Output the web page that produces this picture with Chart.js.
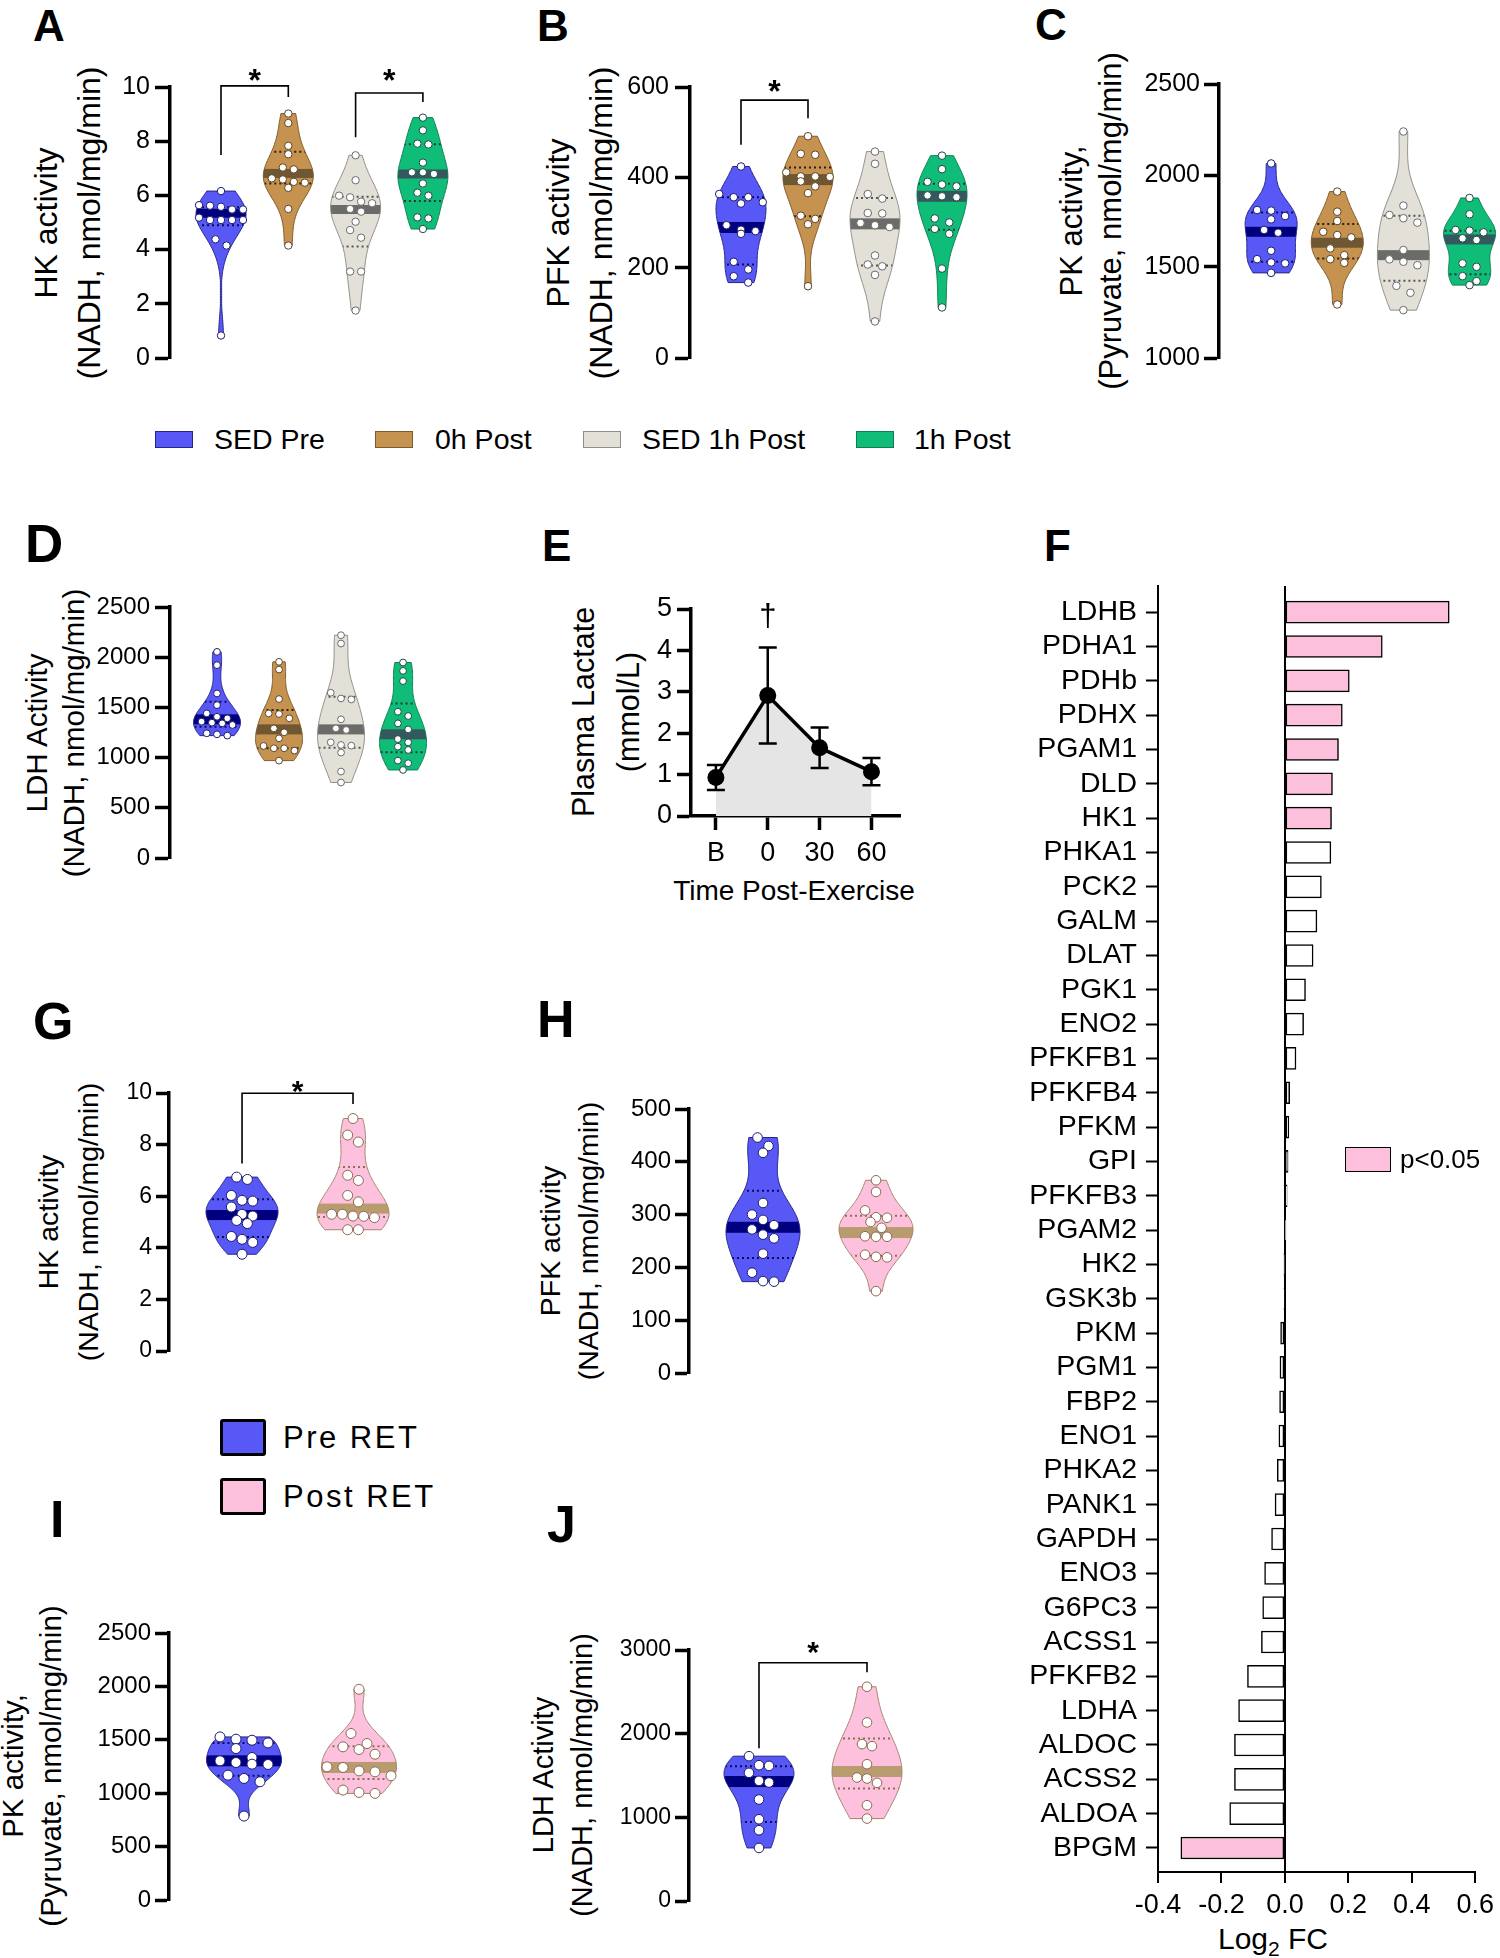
<!DOCTYPE html>
<html>
<head>
<meta charset="utf-8">
<script src="https://cdn.jsdelivr.net/npm/chart.js@4.4.1/dist/chart.umd.min.js"></script>
<style>
  body { margin: 0; background: #fff; }
  #fig { position: relative; width: 1500px; height: 1958px; overflow: hidden; font-family: "Liberation Sans", Arial, Helvetica, sans-serif; color: #000; }
  canvas { position: absolute; }
  .lt { position: absolute; font-weight: bold; line-height: 1; }
  .yt { position: absolute; transform: translate(-50%, -50%) rotate(-90deg); white-space: nowrap; text-align: center; }
  .sw { position: absolute; box-sizing: border-box; }
  .lg { position: absolute; white-space: nowrap; }
</style>
</head>
<body>
<div id="fig">
  <!-- panel letters -->
  <div class="lt" style="left:33px;top:4px;font-size:44px">A</div>
  <div class="lt" style="left:537px;top:4px;font-size:44px">B</div>
  <div class="lt" style="left:1035px;top:3px;font-size:44px">C</div>
  <div class="lt" style="left:25px;top:517px;font-size:53px">D</div>
  <div class="lt" style="left:542px;top:524px;font-size:44px">E</div>
  <div class="lt" style="left:1044px;top:524px;font-size:44px">F</div>
  <div class="lt" style="left:33px;top:995px;font-size:52px">G</div>
  <div class="lt" style="left:537px;top:993px;font-size:52px">H</div>
  <div class="lt" style="left:50px;top:1493px;font-size:52px">I</div>
  <div class="lt" style="left:547px;top:1498px;font-size:52px">J</div>

  <!-- y axis titles -->
  <div class="yt" style="left:67.5px;top:222.5px;font-size:32px;line-height:43px">HK activity<br>(NADH, nmol/mg/min)</div>
  <div class="yt" style="left:579.5px;top:222.5px;font-size:32px;line-height:43px">PFK activity<br>(NADH, nmol/mg/min)</div>
  <div class="yt" style="left:1090.5px;top:221px;font-size:31px;line-height:39px">PK activity,<br>(Pyruvate, nmol/mg/min)</div>
  <div class="yt" style="left:54.5px;top:732.5px;font-size:29.5px;line-height:37px">LDH Activity<br>(NADH, nmol/mg/min)</div>
  <div class="yt" style="left:605.5px;top:712px;font-size:30.5px;line-height:45px">Plasma Lactate<br>(mmol/L)</div>
  <div class="yt" style="left:67.75px;top:1222px;font-size:28.5px;line-height:39.5px">HK activity<br>(NADH, nmol/mg/min)</div>
  <div class="yt" style="left:569px;top:1241px;font-size:28.5px;line-height:38px">PFK activity<br>(NADH, nmol/mg/min)</div>
  <div class="yt" style="left:32px;top:1766px;font-size:29.5px;line-height:38px">PK activity,<br>(Pyruvate, nmol/mg/min)</div>
  <div class="yt" style="left:562.5px;top:1775px;font-size:29px;line-height:39px">LDH Activity<br>(NADH, nmol/mg/min)</div>

  <!-- x axis titles -->
  <div class="lg" style="left:794px;top:891px;transform:translate(-50%,-50%);font-size:28px">Time Post-Exercise</div>
  <div class="lg" style="left:1273px;top:1941px;transform:translate(-50%,-50%);font-size:30px">Log<sub style="font-size:21px">2</sub> FC</div>

  <canvas id="cA" width="480" height="330" style="left:0px;top:50px"></canvas>
  <canvas id="cB" width="490" height="330" style="left:500px;top:50px"></canvas>
  <canvas id="cC" width="500" height="330" style="left:1000px;top:50px"></canvas>
  <canvas id="cD" width="480" height="310" style="left:0px;top:570px"></canvas>
  <canvas id="cE" width="400" height="340" style="left:520px;top:580px"></canvas>
  <canvas id="cF" width="500" height="1398" style="left:1000px;top:560px"></canvas>
  <canvas id="cG" width="480" height="330" style="left:0px;top:1050px"></canvas>
  <canvas id="cH" width="470" height="330" style="left:500px;top:1070px"></canvas>
  <canvas id="cI" width="480" height="330" style="left:0px;top:1600px"></canvas>
  <canvas id="cJ" width="470" height="320" style="left:500px;top:1610px"></canvas>
</div>

<script>
Chart.defaults.font.family = '"Liberation Sans", Arial, Helvetica, sans-serif';
Chart.defaults.color = "#000";

// ---------- data ----------
const topGroups = ["SED Pre", "0h Post", "SED 1h Post", "1h Post"];
const retGroups = ["Pre RET", "Post RET"];

// A  HK activity (acute)
const hkTicks = [0, 2, 4, 6, 8, 10];
const hkSedPre = [6.16, 5.62, 5.48, 5.58, 5.64, 5.48, 5.18, 5.09, 5.09, 5.09, 5.09, 4.38, 4.15, 0.83];
const hk0hPost = [9.02, 8.67, 7.83, 7.52, 7.03, 6.96, 6.63, 6.50, 6.47, 6.59, 6.28, 5.50, 4.15];
const hkSed1h = [7.48, 6.56, 5.93, 5.99, 5.77, 5.71, 5.50, 5.40, 5.03, 4.72, 4.44, 3.19, 3.19, 1.75];
const hk1hPost = [8.87, 8.40, 7.88, 7.91, 7.21, 6.85, 6.79, 6.85, 6.44, 6.10, 5.99, 5.19, 5.15, 4.76];
const hkMed = [5.34, 6.81, 5.48, 6.79];
const hkQ1 = [4.90, 6.44, 4.11, 5.79];
const hkQ3 = [5.56, 7.61, 5.95, 7.89];

// B  PFK activity (acute)
const pfkTicks = [0, 200, 400, 600];
const pfkSedPre = [424, 356, 356, 363, 342, 345, 294, 284, 275, 281, 213, 196, 181, 167];
const pfk0hPost = [491, 452, 450, 402, 401, 411, 402, 380, 391, 365, 308, 315, 296, 159];
const pfkSed1h = [457, 430, 363, 353, 320, 321, 294, 290, 299, 227, 203, 207, 184, 81];
const pfk1hPost = [448, 418, 390, 380, 384, 356, 358, 360, 300, 309, 275, 286, 198, 112];
const pfkMed = [289, 395, 297, 358];
const pfkQ1 = [207, 314, 205, 284];
const pfkQ3 = [356, 422, 354, 386];

// C  PK activity (acute)
const pkTicks = [1000, 1500, 2000, 2500];
const pkSedPre = [2065, 1807, 1810, 1759, 1777, 1701, 1686, 1587, 1541, 1523, 1518, 1466];
const pk0hPost = [1911, 1801, 1750, 1673, 1691, 1660, 1600, 1563, 1541, 1521, 1293];
const pkSed1h = [2240, 1834, 1783, 1765, 1741, 1591, 1527, 1540, 1508, 1395, 1357, 1262];
const pk1hPost = [1876, 1787, 1688, 1697, 1701, 1646, 1655, 1518, 1499, 1448, 1421, 1399];
const pkMed = [1691, 1631, 1563, 1649];
const pkQ1 = [1527, 1545, 1423, 1459];
const pkQ3 = [1797, 1733, 1779, 1697];

// D  LDH activity (acute)
const ldhTicks = [0, 500, 1000, 1500, 2000, 2500];
const ldhSedPre = [2053, 1921, 1639, 1523, 1440, 1407, 1391, 1358, 1348, 1341, 1325, 1219, 1242, 1232];
const ldh0hPost = [1954, 1877, 1583, 1434, 1440, 1391, 1291, 1252, 1192, 1116, 1093, 1093, 1070, 970];
const ldhSed1h = [2219, 2136, 1579, 1589, 1646, 1381, 1275, 1291, 1152, 1119, 1126, 1050, 861, 752];
const ldh1hPost = [1947, 1864, 1762, 1414, 1457, 1341, 1281, 1185, 1152, 1109, 1076, 970, 944, 877];
const ldhMed = [1381, 1281, 1281, 1232];
const ldhQ1 = [1308, 1093, 1099, 1053];
const ldhQ3 = [1556, 1474, 1606, 1540];

// E  plasma lactate
const lactLabels = ["B", "0", "30", "60"];
const lactMean = [0.93, 2.91, 1.65, 1.07];
const lactSd = [0.30, 1.16, 0.49, 0.33];
const lactTicks = [0, 1, 2, 3, 4, 5];

// F  log2 fold change
const genes = ["LDHB", "PDHA1", "PDHb", "PDHX", "PGAM1", "DLD", "HK1", "PHKA1", "PCK2", "GALM", "DLAT", "PGK1", "ENO2",
  "PFKFB1", "PFKFB4", "PFKM", "GPI", "PFKFB3", "PGAM2", "HK2", "GSK3b", "PKM", "PGM1", "FBP2", "ENO1", "PHKA2", "PANK1",
  "GAPDH", "ENO3", "G6PC3", "ACSS1", "PFKFB2", "LDHA", "ALDOC", "ACSS2", "ALDOA", "BPGM"];
const log2fc = [0.518, 0.307, 0.203, 0.181, 0.169, 0.150, 0.147, 0.145, 0.115, 0.101, 0.089, 0.065, 0.059,
  0.035, 0.015, 0.0125, 0.010, 0.007, 0.001, -0.002, -0.003, -0.0135, -0.0156, -0.0167, -0.019, -0.024, -0.031,
  -0.042, -0.064, -0.070, -0.074, -0.118, -0.146, -0.159, -0.159, -0.174, -0.328];
const sigGenes = ["LDHB", "PDHA1", "PDHb", "PDHX", "PGAM1", "DLD", "HK1", "BPGM"];
const fcTicks = [-0.4, -0.2, 0, 0.2, 0.4, 0.6];

// G  HK activity (training)
const retHkPre = [6.65, 6.74, 6.03, 5.81, 5.84, 5.58, 5.30, 5.23, 5.06, 4.94, 4.44, 4.33, 4.21, 3.75];
const retHkPost = [9.01, 8.37, 8.10, 6.81, 6.61, 6.03, 5.78, 5.23, 5.30, 5.30, 5.22, 5.17, 4.70, 4.70];
const retHkMed = [5.27, 5.52];
const retHkQ1 = [4.42, 5.19];
const retHkQ3 = [5.88, 7.13];

// H  PFK activity (training)
const retPfkTicks = [0, 100, 200, 300, 400, 500];
const retPfkPre = [446, 430, 417, 322, 300, 280, 290, 272, 255, 262, 226, 190, 173, 174];
const retPfkPost = [365, 343, 294, 295, 308, 286, 275, 258, 258, 259, 224, 219, 220, 155];
const retPfkMed = [276, 266];
const retPfkQ1 = [218, 222];
const retPfkQ3 = [345, 298];

// I  PK activity (training)
const retPkTicks = [0, 500, 1000, 1500, 2000, 2500];
const retPkPre = [1496, 1471, 1506, 1527, 1418, 1334, 1303, 1287, 1269, 1272, 1169, 1138, 1107, 786];
const retPkPost = [1973, 1559, 1434, 1465, 1365, 1409, 1247, 1241, 1200, 1209, 1163, 998, 1029, 1007];
const retPkMed = [1303, 1241];
const retPkQ1 = [1163, 1132];
const retPkQ3 = [1471, 1440];

// J  LDH activity (training)
const retLdhTicks = [0, 1000, 2000, 3000];
const retLdhPre = [1731, 1615, 1623, 1532, 1416, 1436, 1213, 977, 846, 634];
const retLdhPost = [2561, 2134, 1875, 1851, 1635, 1476, 1464, 1412, 1145, 985];
const retLdhMed = [1428, 1548];
const retLdhQ1 = [945, 1344];
const retLdhQ3 = [1611, 1943];

// ---------- colours ----------
const pal = {
  sedPre: { fill: "#5858f7", band: "#00007e", edge: "#26268a", pt: "#1c1c6e", dot: "#0a0a5a" },
  h0Post: { fill: "#c5924f", band: "#6f5734", edge: "#7d5b2d", pt: "#5e4424", dot: "#2a1f10" },
  sed1h: { fill: "#e3e0d7", band: "#6b6b69", edge: "#8e8e8a", pt: "#6b6b6b", dot: "#555555" },
  h1Post: { fill: "#0fbd78", band: "#34585e", edge: "#0d8052", pt: "#1f4a44", dot: "#183838" },
  postRet: { fill: "#fdc1dd", band: "#b99b70", edge: "#a6846a", pt: "#8a6a4e", dot: "#8d6f52" }
};
const topPal = [pal.sedPre, pal.h0Post, pal.sed1h, pal.h1Post];
const retPal = [pal.sedPre, pal.postRet];

function groups(list, med, q1, q3, colors) {
  return list.map((vals, i) => ({ vals, med: med[i], q1: q1[i], q3: q3[i], c: colors[i] }));
}

// kernel density profile, cut at the data range
function kde(vals, n, bw) {
  const m = vals.length;
  const mean = vals.reduce((a, b) => a + b, 0) / m;
  const sd = Math.sqrt(vals.reduce((a, b) => a + (b - mean) ** 2, 0) / (m - 1));
  const h = 0.9 * sd * Math.pow(m, -0.2) * bw;
  const lo = Math.min(...vals), hi = Math.max(...vals);
  const out = [];
  for (let k = 0; k <= n; k++) {
    const v = lo + (hi - lo) * k / n;
    let d = 0;
    vals.forEach(x => { d += Math.exp(-0.5 * ((v - x) / h) ** 2); });
    out.push([v, d]);
  }
  const mx = Math.max(...out.map(p => p[1]));
  return out.map(p => [p[0], p[1] / mx]);
}

function violinPlugin(o) {
  return {
    id: "violins",
    beforeDatasetsDraw(chart) {
      const { ctx, scales: { x, y } } = chart;
      o.groups.forEach((g, i) => {
        const cx = x.getPixelForValue(i);
        const prof = kde(g.vals, 90, o.bw || 1);
        const path = new Path2D();
        prof.forEach(([v, d], k) => {
          const px = cx - Math.max(d * o.halfW, 0.6), py = y.getPixelForValue(v);
          if (k === 0) path.moveTo(px, py); else path.lineTo(px, py);
        });
        for (let k = prof.length - 1; k >= 0; k--) {
          path.lineTo(cx + Math.max(prof[k][1] * o.halfW, 0.6), y.getPixelForValue(prof[k][0]));
        }
        path.closePath();
        ctx.save();
        ctx.fillStyle = g.c.fill;
        ctx.fill(path);
        ctx.save();
        ctx.clip(path);
        const w = o.halfW + 4;
        const pm = y.getPixelForValue(g.med);
        ctx.fillStyle = g.c.band;
        ctx.fillRect(cx - w, pm - o.band / 2, 2 * w, o.band);
        ctx.strokeStyle = g.c.dot;
        ctx.lineWidth = 2;
        ctx.setLineDash([2, 3]);
        [g.q1, g.q3].forEach(q => {
          const pq = y.getPixelForValue(q);
          ctx.beginPath(); ctx.moveTo(cx - w, pq); ctx.lineTo(cx + w, pq); ctx.stroke();
        });
        ctx.restore();
        ctx.strokeStyle = g.c.edge;
        ctx.lineWidth = 1;
        ctx.stroke(path);
        ctx.restore();
      });
    },
    afterDatasetsDraw(chart) {
      const { ctx, scales: { x, y } } = chart;
      (o.sig || []).forEach(s => {
        const x0 = x.getPixelForValue(s.from), x1 = x.getPixelForValue(s.to);
        const yt = y.getPixelForValue(s.top);
        ctx.save();
        ctx.strokeStyle = "#000";
        ctx.lineWidth = 1.6;
        ctx.beginPath();
        ctx.moveTo(x0, y.getPixelForValue(s.a));
        ctx.lineTo(x0, yt);
        ctx.lineTo(x1, yt);
        ctx.lineTo(x1, y.getPixelForValue(s.b));
        ctx.stroke();
        ctx.fillStyle = "#000";
        ctx.font = "bold " + o.starSize + 'px "Liberation Sans", Arial';
        ctx.textAlign = "center";
        ctx.textBaseline = "alphabetic";
        ctx.fillText("*", (x0 + x1) / 2, y.getPixelForValue(s.star) + 0.58 * o.starSize);
        ctx.restore();
      });
    }
  };
}

// spread points of one violin sideways, row by row
function swarm(chart, o) {
  const xs = chart.scales.x, ys = chart.scales.y;
  chart.data.datasets.forEach((ds, i) => {
    const items = o.groups[i].vals.map(v => ({ v, py: ys.getPixelForValue(v) })).sort((a, b) => a.py - b.py);
    const rows = [];
    items.forEach(it => {
      const row = rows[rows.length - 1];
      if (row && it.py - row[0].py < o.r * 2.2) row.push(it); else rows.push([it]);
    });
    const cx = xs.getPixelForValue(i);
    const pts = [];
    rows.forEach(row => row.forEach((it, k) => {
      pts.push({ x: xs.getValueForPixel(cx + (k - (row.length - 1) / 2) * o.step), y: it.v });
    }));
    ds.data = pts;
  });
  chart.update("none");
}

function violin(id, o) {
  const chart = new Chart(document.getElementById(id), {
    type: "scatter",
    data: {
      datasets: o.groups.map((g, i) => ({
        data: g.vals.map(v => ({ x: i, y: v })),
        pointRadius: o.r, pointHoverRadius: o.r,
        pointBackgroundColor: "#fff", pointBorderColor: g.c.pt, pointBorderWidth: 1,
        clip: false
      }))
    },
    options: {
      responsive: false, animation: false, events: [],
      layout: { padding: { top: o.pad[0], right: o.pad[1], bottom: o.pad[2], left: 0 } },
      plugins: { legend: { display: false }, tooltip: { enabled: false } },
      scales: {
        x: { type: "linear", display: false, min: o.xr[0], max: o.xr[1] },
        y: {
          type: "linear", min: o.ticks[0], max: o.ticks[o.ticks.length - 1],
          afterFit: s => { s.width = o.yw; },
          afterBuildTicks: s => { s.ticks = o.ticks.map(v => ({ value: v })); },
          border: { display: true, width: 3.5, color: "#000" },
          grid: { drawOnChartArea: false, tickLength: o.tl, tickWidth: 3.5, tickColor: "#000" },
          ticks: { color: "#000", font: { size: o.tf }, padding: o.tp, autoSkip: false, callback: v => String(v) }
        }
      }
    },
    plugins: [violinPlugin(o)]
  });
  swarm(chart, o);
  return chart;
}

// ---------- A ----------
violin("cA", {
  groups: groups([hkSedPre, hk0hPost, hkSed1h, hk1hPost], hkMed, hkQ1, hkQ3, topPal),
  ticks: hkTicks, yw: 170, pad: [37, 10, 22], xr: [-0.758, 3.70],
  halfW: 25, band: 9, r: 3.7, step: 11, tl: 15, tf: 25, tp: 5, starSize: 32,
  sig: [{ from: 0, to: 1, top: 10.04, a: 7.49, b: 9.63, star: 10.55 },
        { from: 2, to: 3, top: 9.78, a: 8.15, b: 9.45, star: 10.52 }]
});

// ---------- B ----------
violin("cB", {
  groups: groups([pfkSedPre, pfk0hPost, pfkSed1h, pfk1hPost], pfkMed, pfkQ1, pfkQ3, topPal),
  ticks: pfkTicks, yw: 190, pad: [37, 10, 22], xr: [-0.761, 3.567],
  halfW: 25, band: 11, r: 3.8, step: 14.5, tl: 15, tf: 25, tp: 6, starSize: 32,
  sig: [{ from: 0, to: 1, top: 571, a: 472, b: 531, star: 608 }]
});

// ---------- C ----------
violin("cC", {
  groups: groups([pkSedPre, pk0hPost, pkSed1h, pk1hPost], pkMed, pkQ1, pkQ3, topPal),
  ticks: pkTicks, yw: 219, pad: [34, 0, 22], xr: [-0.788, 3.388],
  halfW: 26, band: 10, r: 3.8, step: 14, tl: 15, tf: 25, tp: 4, starSize: 32
});

// ---------- D ----------
violin("cD", {
  groups: groups([ldhSedPre, ldh0hPost, ldhSed1h, ldh1hPost], ldhMed, ldhQ1, ldhQ3, topPal),
  ticks: ldhTicks, yw: 170, pad: [37, 10, 22], xr: [-0.758, 4.08],
  halfW: 23.5, band: 10, r: 3.4, step: 10.3, tl: 15, tf: 24, tp: 5, starSize: 32
});

// ---------- E ----------
const errPlugin = {
  id: "errbars",
  beforeDatasetsDraw(chart) {
    const { ctx, scales: { x, y } } = chart;
    ctx.save();
    ctx.strokeStyle = "#000";
    ctx.lineWidth = 2.5;
    lactMean.forEach((m, i) => {
      const px = x.getPixelForValue(i);
      const t = y.getPixelForValue(m + lactSd[i]), b = y.getPixelForValue(m - lactSd[i]);
      ctx.beginPath();
      ctx.moveTo(px, t); ctx.lineTo(px, b);
      ctx.moveTo(px - 9, t); ctx.lineTo(px + 9, t);
      ctx.moveTo(px - 9, b); ctx.lineTo(px + 9, b);
      ctx.stroke();
    });
    ctx.restore();
  },
  afterDraw(chart) {
    const { ctx, scales: { x, y } } = chart;
    ctx.save();
    ctx.fillStyle = "#000";
    ctx.font = '31px "Liberation Sans", Arial';
    ctx.textAlign = "center";
    ctx.textBaseline = "alphabetic";
    ctx.fillText("\u2020", x.getPixelForValue(1), y.getPixelForValue(4.81) + 9);
    ctx.restore();
  }
};

new Chart(document.getElementById("cE"), {
  type: "line",
  data: {
    datasets: [{
      data: lactMean.map((m, i) => ({ x: i, y: m })),
      borderColor: "#000", borderWidth: 3.5, tension: 0,
      pointRadius: 8.5, pointBackgroundColor: "#000", pointBorderWidth: 0,
      fill: "origin", backgroundColor: "#e5e5e5", clip: false
    }]
  },
  options: {
    responsive: false, animation: false, events: [],
    layout: { padding: { top: 29, right: 20, bottom: 0, left: 0 } },
    plugins: { legend: { display: false }, tooltip: { enabled: false }, filler: { drawTime: "beforeDatasetsDraw" } },
    scales: {
      x: {
        type: "linear", min: -0.48, max: 3.55,
        afterFit: s => { s.height = 104; },
        afterBuildTicks: s => { s.ticks = lactLabels.map((l, i) => ({ value: i })); },
        border: { width: 3.5, color: "#000" },
        grid: { drawOnChartArea: false, tickLength: 14, tickWidth: 3.5, tickColor: "#000" },
        ticks: { font: { size: 27 }, padding: 7, maxRotation: 0, autoSkip: false, callback: (v, i) => lactLabels[i] }
      },
      y: {
        type: "linear", min: 0, max: 5,
        afterFit: s => { s.width = 171; },
        afterBuildTicks: s => { s.ticks = lactTicks.map(v => ({ value: v })); },
        border: { width: 3.5, color: "#000" },
        grid: { drawOnChartArea: false, tickLength: 14, tickWidth: 3.5, tickColor: "#000" },
        ticks: { font: { size: 27 }, padding: 5, autoSkip: false, callback: v => String(v) }
      }
    }
  },
  plugins: [errPlugin]
});

// ---------- F ----------
new Chart(document.getElementById("cF"), {
  type: "bar",
  data: {
    datasets: [{
      data: log2fc.map((v, i) => ({ x: v, y: i })),
      backgroundColor: genes.map(g => sigGenes.includes(g) ? "#fdc0dc" : "#ffffff"),
      borderColor: "#000", borderWidth: 1.5, borderSkipped: false, barThickness: 22
    }]
  },
  options: {
    indexAxis: "y",
    responsive: false, animation: false, events: [],
    layout: { padding: { top: 25, right: 22, bottom: 0, left: 0 } },
    plugins: { legend: { display: false }, tooltip: { enabled: false } },
    scales: {
      x: {
        type: "linear", min: -0.4, max: 0.6,
        afterFit: s => { s.height = 86; },
        afterBuildTicks: s => { s.ticks = fcTicks.map(v => ({ value: v })); },
        border: { width: 2, color: "#000" },
        grid: {
          color: c => (c.tick && Math.abs(c.tick.value) < 1e-9 ? "#000" : "rgba(0,0,0,0)"),
          lineWidth: 2, tickLength: 11, tickWidth: 2, tickColor: "#000"
        },
        ticks: { font: { size: 27 }, padding: 6, maxRotation: 0, autoSkip: false, callback: v => Number(v).toFixed(1) }
      },
      y: {
        type: "linear", reverse: true, min: -0.76, max: 36.7, offset: false,
        afterFit: s => { s.width = 158; },
        afterBuildTicks: s => { s.ticks = genes.map((g, i) => ({ value: i })); },
        border: { width: 2, color: "#000" },
        grid: { offset: false, drawOnChartArea: false, tickLength: 12, tickWidth: 2, tickColor: "#000" },
        ticks: { font: { size: 28.5 }, padding: 9, autoSkip: false, callback: (v, i) => genes[i] }
      }
    }
  }
});

// ---------- G ----------
violin("cG", {
  groups: groups([retHkPre, retHkPost], retHkMed, retHkQ1, retHkQ3, retPal),
  ticks: hkTicks, yw: 169, pad: [43, 10, 29], xr: [-0.658, 2.054],
  halfW: 36, band: 10, r: 5, step: 10.7, tl: 13, tf: 23, tp: 4, starSize: 30,
  sig: [{ from: 0, to: 1, top: 9.99, a: 7.27, b: 9.57, star: 10.38 }]
});

// ---------- H ----------
violin("cH", {
  groups: groups([retPfkPre, retPfkPost], retPfkMed, retPfkQ1, retPfkQ3, retPal),
  ticks: retPfkTicks, yw: 189, pad: [39, 10, 27], xr: [-0.655, 1.743],
  halfW: 37, band: 11, r: 4.8, step: 11, tl: 14, tf: 24, tp: 4, starSize: 30
});

// ---------- I ----------
violin("cI", {
  groups: groups([retPkPre, retPkPost], retPkMed, retPkQ1, retPkQ3, retPal),
  ticks: retPkTicks, yw: 169, pad: [33, 10, 30], xr: [-0.652, 1.965],
  halfW: 37.5, band: 11, r: 5, step: 16, tl: 14, tf: 24, tp: 4, starSize: 30
});

// ---------- J ----------
violin("cJ", {
  groups: groups([retLdhPre, retLdhPost], retLdhMed, retLdhQ1, retLdhQ3, retPal),
  ticks: retLdhTicks, yw: 189, pad: [40, 10, 29], xr: [-0.648, 1.861],
  halfW: 35, band: 11, r: 4.8, step: 10, tl: 14, tf: 23, tp: 4, starSize: 30,
  sig: [{ from: 0, to: 1, top: 2848, a: 1825, b: 2733, star: 3060 }]
});

// ---------- legends ----------
const fig = document.getElementById("fig");
function addDiv(cls, style, text) {
  const d = document.createElement("div");
  d.className = cls;
  d.setAttribute("style", style);
  if (text) d.textContent = text;
  fig.appendChild(d);
}
const topLegX = [[155, 214], [375, 435], [583, 642], [856, 914]];
topGroups.forEach((name, i) => {
  addDiv("sw", `left:${topLegX[i][0]}px;top:431px;width:38px;height:17px;background:${topPal[i].fill};border:1.5px solid ${topPal[i].edge}`);
  addDiv("lg", `left:${topLegX[i][1]}px;top:422px;font-size:28.5px;line-height:34px`, name);
});
const retLegY = [1419, 1478];
retGroups.forEach((name, i) => {
  addDiv("sw", `left:220px;top:${retLegY[i]}px;width:46px;height:37px;background:${retPal[i].fill};border:3.5px solid #000;border-radius:3px`);
  addDiv("lg", `left:283px;top:${retLegY[i]}px;font-size:31px;line-height:37px;letter-spacing:2.5px`, name);
});
addDiv("sw", "left:1345px;top:1147px;width:46px;height:25px;background:#fdc0dc;border:1.5px solid #000");
addDiv("lg", "left:1400px;top:1144px;font-size:26px;line-height:30px", "p<0.05");
</script>
</body>
</html>
